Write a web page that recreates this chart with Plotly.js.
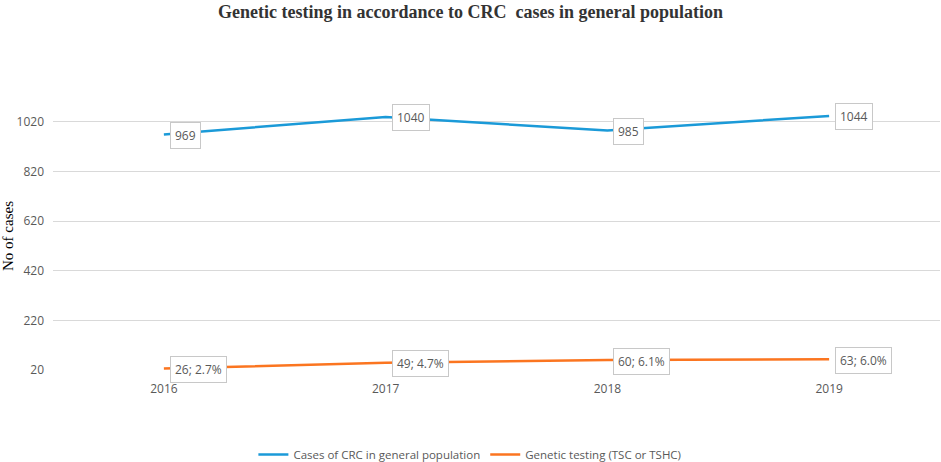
<!DOCTYPE html>
<html>
<head>
<meta charset="utf-8">
<script src="https://cdn.plot.ly/plotly-3.0.1.min.js"></script>
<style>
  html, body { margin: 0; padding: 0; background: #fff; }
  #chart { width: 941px; height: 462px; }
</style>
</head>
<body>
<div id="chart"></div>
<script>
// Values
var years = ['2016', '2017', '2018', '2019'];
var crcCases = [969, 1040, 985, 1044];
var geneticTests = [26, 49, 60, 63];
var geneticPct = ['2.7%', '4.7%', '6.1%', '6.0%'];
var yTicks = [20, 220, 420, 620, 820, 1020];

var blue = '#1b9ad8';
var orange = '#fb7520';
var labelFont = { family: 'Open Sans, Liberation Sans, sans-serif', size: 12, color: '#595959' };

var data = [
    {
        x: years,
        y: crcCases,
        name: 'Cases of CRC in general population',
        mode: 'lines',
        type: 'scatter',
        line: { color: blue, width: 2.5 }
    },
    {
        x: years,
        y: geneticTests,
        name: 'Genetic testing (TSC or TSHC)',
        mode: 'lines',
        type: 'scatter',
        line: { color: orange, width: 2.5 }
    }
];

// data labels in white boxes next to each point (x by category index)
var annotations = [];
years.forEach(function (yr, i) {
    annotations.push({
        x: i, y: crcCases[i], xref: 'x', yref: 'y',
        text: String(crcCases[i]),
        showarrow: false, xanchor: 'left', yanchor: 'middle', xshift: 6, yshift: -1,
        bgcolor: '#ffffff', bordercolor: '#c8c8c8', borderwidth: 1, borderpad: 4,
        font: labelFont
    });
    annotations.push({
        x: i, y: geneticTests[i], xref: 'x', yref: 'y',
        text: geneticTests[i] + '; ' + geneticPct[i],
        showarrow: false, xanchor: 'left', yanchor: 'middle', xshift: 6, yshift: -1,
        bgcolor: '#ffffff', bordercolor: '#c8c8c8', borderwidth: 1, borderpad: 4,
        font: labelFont
    });
});

var layout = {
    width: 941,
    height: 462,
    paper_bgcolor: '#ffffff',
    plot_bgcolor: '#ffffff',
    title: {
        text: '<b>Genetic testing in accordance to CRC  cases in general population</b>',
        font: { family: 'Liberation Serif, Times New Roman, serif', size: 18, color: '#333333' },
        x: 0.5, xanchor: 'center',
        y: 0.975, yanchor: 'middle'
    },
    xaxis: {
        type: 'category',
        range: [-0.5, 3.5],
        showgrid: false,
        zeroline: false,
        showline: false,
        ticks: '',
        ticklabelstandoff: 10,
        tickfont: { family: 'Open Sans, Liberation Sans, sans-serif', size: 12, color: '#595959' }
    },
    yaxis: {
        range: [20, 1100],
        tickvals: yTicks,
        ticktext: yTicks.map(String),
        showgrid: true,
        gridcolor: '#d9d9d9',
        gridwidth: 1,
        zeroline: false,
        showline: false,
        ticks: '',
        ticklabelstandoff: 8,
        tickfont: { family: 'Open Sans, Liberation Sans, sans-serif', size: 12, color: '#595959' },
        title: {
            text: 'No of cases',
            font: { family: 'Liberation Serif, Times New Roman, serif', size: 15, color: '#000000' },
            standoff: 4
        }
    },
    showlegend: true,
    legend: {
        orientation: 'h',
        x: 0.47, xanchor: 'center', xref: 'paper',
        y: 0.016, yanchor: 'middle', yref: 'container',
        font: { family: 'Open Sans, Liberation Sans, sans-serif', size: 11.5, color: '#595959' },
        itemwidth: 30
    },
    annotations: annotations,
    margin: { l: 53, r: 1, t: 102, b: 92 }
};

Plotly.newPlot('chart', data, layout, { staticPlot: true });
</script>
</body>
</html>
